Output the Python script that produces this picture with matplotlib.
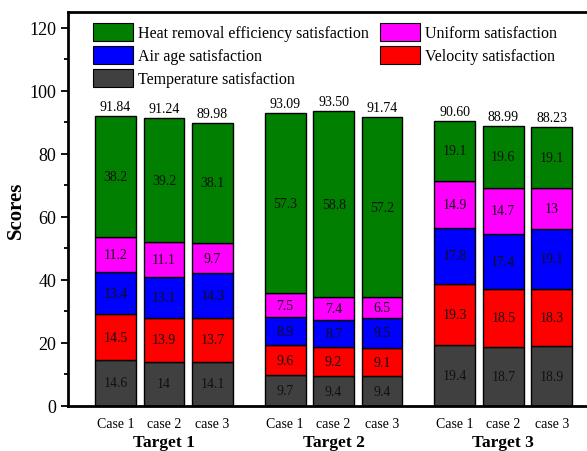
import matplotlib
matplotlib.use("Agg")
import matplotlib.pyplot as plt
from matplotlib.patches import Patch
from matplotlib.ticker import MultipleLocator
from matplotlib.transforms import blended_transform_factory
import numpy as np

plt.rcParams['font.family'] = ['Liberation Serif', 'DejaVu Serif']

targets = ["Target 1", "Target 2", "Target 3"]
cases = ["Case 1", "case 2", "case 3"]

# satisfaction components, one value per bar (Target 1 cases, Target 2 cases, Target 3 cases)
temperature = [14.6, 14.0, 14.1, 9.7, 9.4, 9.4, 19.4, 18.7, 18.9]
velocity = [14.5, 13.9, 13.7, 9.6, 9.2, 9.1, 19.3, 18.5, 18.3]
air_age = [13.4, 13.1, 14.3, 8.9, 8.7, 9.5, 17.8, 17.4, 19.1]
uniform = [11.2, 11.1, 9.7, 7.5, 7.4, 6.5, 14.9, 14.7, 13.0]
heat_removal = [38.2, 39.2, 38.1, 57.3, 58.8, 57.2, 19.1, 19.6, 19.1]
segment_labels = {
    "temperature": ["14.6", "14", "14.1", "9.7", "9.4", "9.4", "19.4", "18.7", "18.9"],
    "velocity": ["14.5", "13.9", "13.7", "9.6", "9.2", "9.1", "19.3", "18.5", "18.3"],
    "air_age": ["13.4", "13.1", "14.3", "8.9", "8.7", "9.5", "17.8", "17.4", "19.1"],
    "uniform": ["11.2", "11.1", "9.7", "7.5", "7.4", "6.5", "14.9", "14.7", "13"],
    "heat_removal": ["38.2", "39.2", "38.1", "57.3", "58.8", "57.2", "19.1", "19.6", "19.1"],
}
totals = ["91.84", "91.24", "89.98", "93.09", "93.50", "91.74", "90.60", "88.99", "88.23"]

series = [
    ("temperature", temperature, "#404040", "Temperature satisfaction"),
    ("velocity", velocity, "#ff0000", "Velocity satisfaction"),
    ("air_age", air_age, "#0000ff", "Air age satisfaction"),
    ("uniform", uniform, "#ff00ff", "Uniform satisfaction"),
    ("heat_removal", heat_removal, "#007f00", "Heat removal efficiency satisfaction"),
]

group_step = 3.5
x = np.array([g * group_step + (i - 1) for g in range(3) for i in range(3)])
width = 0.84

fig = plt.figure(figsize=(5.87, 4.52), dpi=100)
ax = fig.add_axes([0.1158, 0.0996, 0.901, 0.8714])

bottom = np.zeros(len(x))
handles = {}
for key, vals, color, name in series:
    vals = np.array(vals)
    ax.bar(x, vals, width, bottom=bottom, color=color, edgecolor="black", linewidth=1.0)
    for xi, b, v, lab in zip(x, bottom, vals, segment_labels[key]):
        ax.text(xi, b + v / 2, lab, ha="center", va="center", fontsize=10, color="#111111")
    bottom = bottom + vals
    handles[key] = Patch(facecolor=color, edgecolor="black", linewidth=0.8, label=name)

for xi, top, lab in zip(x, bottom, totals):
    ax.text(xi, top + 1.0, lab, ha="center", va="bottom", fontsize=10)

ax.set_xlim(-1.98, 8.93)
ax.set_ylim(0, 125)
ax.yaxis.set_major_locator(MultipleLocator(20))
ax.yaxis.set_minor_locator(MultipleLocator(10))
ax.tick_params(axis="y", which="major", direction="out", length=5, width=1.3, labelsize=13)
ax.tick_params(axis="y", which="minor", direction="out", length=3, width=1.3)
ax.set_xticks(x)
ax.set_xticklabels([cases[i % 3] for i in range(len(x))], fontsize=10)
ax.tick_params(axis="x", length=0, pad=8)
for side in ["left", "bottom", "top"]:
    ax.spines[side].set_linewidth(2)
ax.spines["right"].set_visible(False)

ax.set_ylabel("Scores", fontsize=15, fontweight="bold", labelpad=2)

trans = blended_transform_factory(ax.transData, ax.transAxes)
for g, t in enumerate(targets):
    ax.text(g * group_step, -0.091, t, transform=trans, ha="center", va="center",
            fontsize=12.5, fontweight="bold")

order = ["heat_removal", "air_age", "temperature", "uniform", "velocity"]
ax.legend(handles=[handles[k] for k in order], ncol=2, loc="upper left",
          bbox_to_anchor=(0.047, 0.972), frameon=False, fontsize=11.5,
          handlelength=2.5, handleheight=1.35, labelspacing=0.28,
          handletextpad=0.3, columnspacing=0.75, borderaxespad=0,
          borderpad=0)

fig.savefig("out.png", dpi=100)
